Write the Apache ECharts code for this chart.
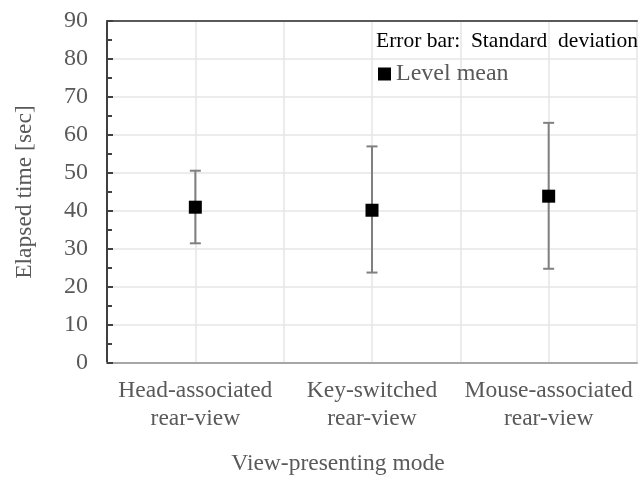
<!DOCTYPE html>
<html>
<head>
<meta charset="utf-8">
<script src="https://cdn.jsdelivr.net/npm/echarts@6/dist/echarts.min.js"></script>
<style>html,body{margin:0;padding:0;background:#fff;}#c{width:640px;height:481px;}</style>
</head>
<body>
<div id="c"></div>
<script>
const categories = ['Head-associated\nrear-view', 'Key-switched\nrear-view', 'Mouse-associated\nrear-view'];
const levelMean = [41.0, 40.2, 43.9];
const sdUpper = [50.6, 57.0, 63.2];
const sdLower = [31.5, 23.8, 24.8];
const yTicks = [0, 10, 20, 30, 40, 50, 60, 70, 80, 90];

const FONT = '"Liberation Serif", "Times New Roman", serif';
const chart = echarts.init(document.getElementById('c'), null, {renderer: 'canvas'});

const meanData = levelMean.map((v, i) => [i + 0.5, v]);
const errData = levelMean.map((v, i) => [i + 0.5, sdLower[i], sdUpper[i]]);

chart.setOption({
  animation: false,
  backgroundColor: '#fff',
  textStyle: {fontFamily: FONT},
  title: {
    text: 'Error bar:  Standard  deviation',
    left: 371, top: 25,
    textStyle: {fontFamily: FONT, fontSize: 21.5, fontWeight: 'normal', color: '#000'}
  },
  legend: {
    data: ['Level mean'],
    left: 373, top: 57,
    icon: 'rect', itemWidth: 13, itemHeight: 13, itemGap: 5,
    textStyle: {fontFamily: FONT, fontSize: 24, color: '#595959'}
  },
  grid: {left: 107, right: 0, top: 21, bottom: 117, containLabel: false},
  xAxis: [{
    type: 'value', min: 0, max: 3, interval: 0.5, position: 'bottom',
    name: 'View-presenting mode', nameLocation: 'middle', nameGap: 89,
    nameTextStyle: {fontFamily: FONT, fontSize: 23.5, color: '#595959', padding: [0, 68, 0, 0]},
    axisLine: {show: true, lineStyle: {color: '#a6a6a6', width: 2}},
    axisTick: {show: false},
    splitLine: {show: true, lineStyle: {color: '#e6e6e6', width: 1.5}},
    axisLabel: {
      fontFamily: FONT, fontSize: 23.5, color: '#595959', lineHeight: 28, margin: 14,
      formatter: function (v) {
        const k = Math.floor(v);
        return (Math.abs(v - k - 0.5) < 1e-6 && categories[k]) ? categories[k] : '';
      }
    }
  }, {
    type: 'value', min: 0, max: 3, position: 'top',
    axisLine: {show: true, lineStyle: {color: '#595959', width: 2}},
    axisTick: {show: false}, axisLabel: {show: false}, splitLine: {show: false}
  }],
  yAxis: {
    type: 'value', min: yTicks[0], max: yTicks[yTicks.length - 1], interval: 10,
    name: 'Elapsed time [sec]', nameLocation: 'middle', nameGap: 70,
    nameTextStyle: {fontFamily: FONT, fontSize: 23.5, color: '#595959'},
    axisLine: {show: true, lineStyle: {color: '#404040', width: 2}},
    axisTick: {show: true, inside: true, length: 6, lineStyle: {color: '#404040', width: 2}},
    minorTick: {show: true, splitNumber: 2, length: 5, lineStyle: {color: '#404040', width: 2}},
    splitLine: {show: true, lineStyle: {color: '#e6e6e6', width: 1.5}},
    axisLabel: {fontFamily: FONT, fontSize: 24, color: '#595959', margin: 19}
  },
  series: [{
    type: 'custom',
    name: 'sd',
    renderItem: function (params, api) {
      const x = api.value(0);
      const lo = api.coord([x, api.value(1)]);
      const hi = api.coord([x, api.value(2)]);
      const hw = 5.5;
      const style = {stroke: '#808080', lineWidth: 2, fill: null};
      return {
        type: 'group',
        children: [
          {type: 'line', shape: {x1: lo[0], y1: lo[1], x2: hi[0], y2: hi[1]}, style: style},
          {type: 'line', shape: {x1: hi[0] - hw, y1: hi[1], x2: hi[0] + hw, y2: hi[1]}, style: style},
          {type: 'line', shape: {x1: lo[0] - hw, y1: lo[1], x2: lo[0] + hw, y2: lo[1]}, style: style}
        ]
      };
    },
    encode: {x: 0, y: [1, 2]},
    data: errData,
    z: 2
  }, {
    type: 'scatter',
    name: 'Level mean',
    symbol: 'rect', symbolSize: 13,
    itemStyle: {color: '#000', opacity: 1},
    data: meanData,
    z: 3
  }]
});
</script>
</body>
</html>
